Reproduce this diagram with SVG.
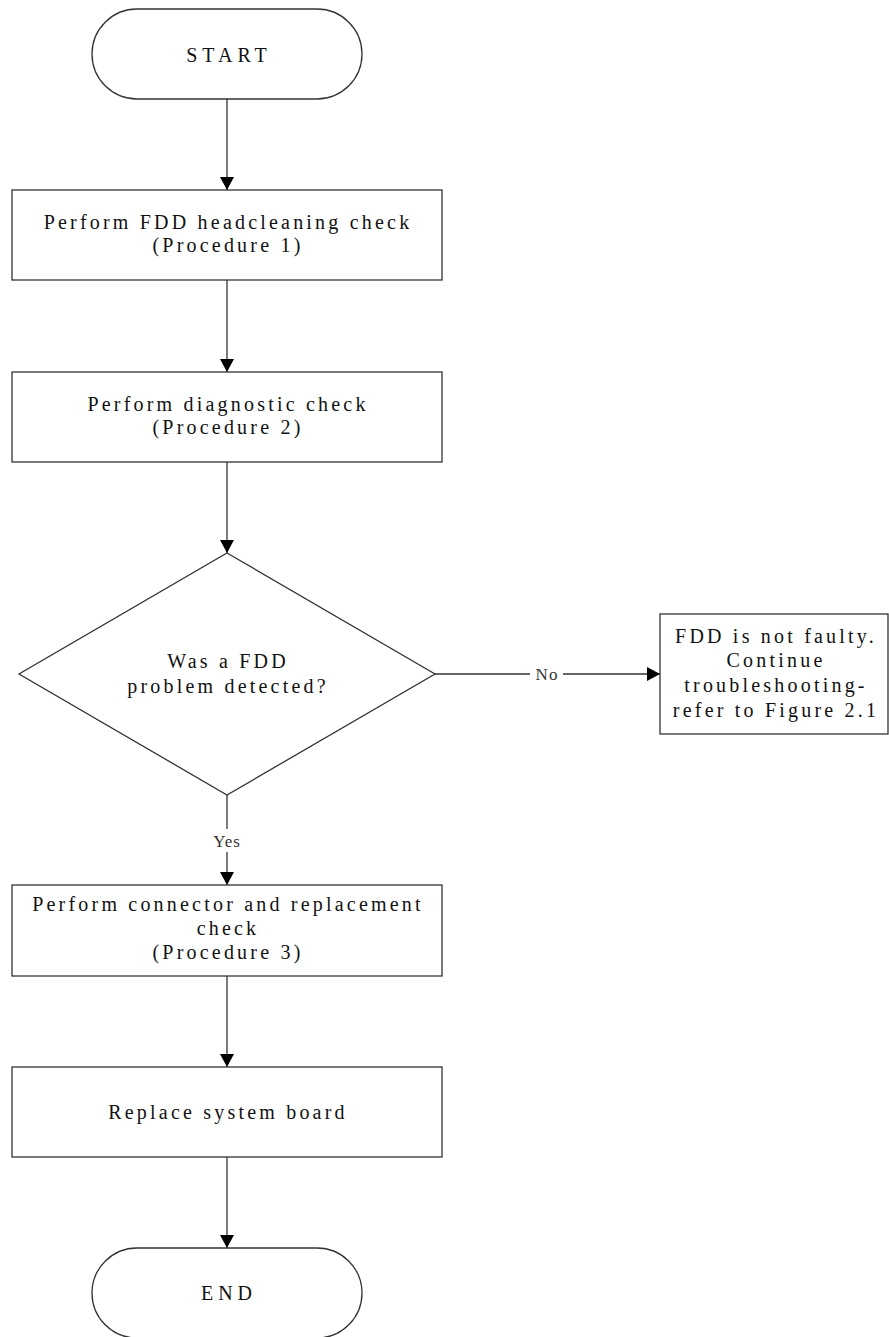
<svg xmlns="http://www.w3.org/2000/svg" width="889" height="1337" viewBox="0 0 889 1337">
  <defs>
    <marker id="arrow" markerUnits="userSpaceOnUse" markerWidth="14" markerHeight="14" refX="13" refY="7" orient="auto">
      <path d="M0,0 L13,7 L0,14 z" fill="#000"/>
    </marker>
    <style>
      .shape { fill: #fff; stroke: #333; stroke-width: 1.3; }
      .conn { fill: none; stroke: #333; stroke-width: 1.3; }
      .t { font-family: "Liberation Serif", "Times New Roman", serif; font-size: 20px; letter-spacing: 3.2px; fill: #111; text-anchor: middle; }
      .term { letter-spacing: 5px; }
      .lbl { font-family: "Liberation Serif", "Times New Roman", serif; font-size: 17px; letter-spacing: 1px; fill: #333; text-anchor: middle; }
    </style>
  </defs>
  <rect width="889" height="1337" fill="#fff"/>

  <g id="connectors">
    <line class="conn" x1="227" y1="99" x2="227" y2="190" marker-end="url(#arrow)"/>
    <line class="conn" x1="227" y1="280" x2="227" y2="372" marker-end="url(#arrow)"/>
    <line class="conn" x1="227" y1="462" x2="227" y2="553" marker-end="url(#arrow)"/>
    <line class="conn" x1="435" y1="674" x2="660" y2="674" marker-end="url(#arrow)"/>
    <line class="conn" x1="227" y1="795" x2="227" y2="885" marker-end="url(#arrow)"/>
    <line class="conn" x1="227" y1="976" x2="227" y2="1067" marker-end="url(#arrow)"/>
    <line class="conn" x1="227" y1="1157" x2="227" y2="1248" marker-end="url(#arrow)"/>
    <rect x="530" y="664" width="33" height="20" fill="#fff"/>
    <text class="lbl" x="547" y="680">No</text>
    <rect x="208" y="829" width="38" height="23" fill="#fff"/>
    <text class="lbl" x="227" y="847">Yes</text>
  </g>

  <g id="start">
    <rect class="shape" x="92" y="9" width="270" height="90" rx="45" ry="45"/>
    <text class="t term" x="229" y="62">START</text>
  </g>

  <g id="headclean">
    <rect class="shape" x="12" y="190" width="430" height="90"/>
    <text class="t" x="228" y="229">Perform FDD headcleaning check</text>
    <text class="t" x="228" y="252">(Procedure 1)</text>
  </g>

  <g id="diagnostic">
    <rect class="shape" x="12" y="372" width="430" height="90"/>
    <text class="t" x="228" y="411">Perform diagnostic check</text>
    <text class="t" x="228" y="434">(Procedure 2)</text>
  </g>

  <g id="decision">
    <polygon class="shape" points="227,553 435,674 227,795 19,674"/>
    <text class="t" x="228" y="668">Was a FDD</text>
    <text class="t" x="228" y="693">problem detected?</text>
  </g>

  <g id="notfaulty">
    <rect class="shape" x="660" y="614" width="228" height="120"/>
    <text class="t" x="776" y="643">FDD is not faulty.</text>
    <text class="t" x="776" y="667">Continue</text>
    <text class="t" x="776" y="692">troubleshooting-</text>
    <text class="t" x="776" y="717">refer to Figure 2.1</text>
  </g>

  <g id="connector-check">
    <rect class="shape" x="12" y="885" width="430" height="91"/>
    <text class="t" x="228" y="911">Perform connector and replacement</text>
    <text class="t" x="228" y="935">check</text>
    <text class="t" x="228" y="959">(Procedure 3)</text>
  </g>

  <g id="replace">
    <rect class="shape" x="12" y="1067" width="430" height="90"/>
    <text class="t" x="228" y="1119">Replace system board</text>
  </g>

  <g id="end">
    <rect class="shape" x="92" y="1248" width="270" height="90" rx="45" ry="45"/>
    <text class="t term" x="229" y="1300">END</text>
  </g>
</svg>
